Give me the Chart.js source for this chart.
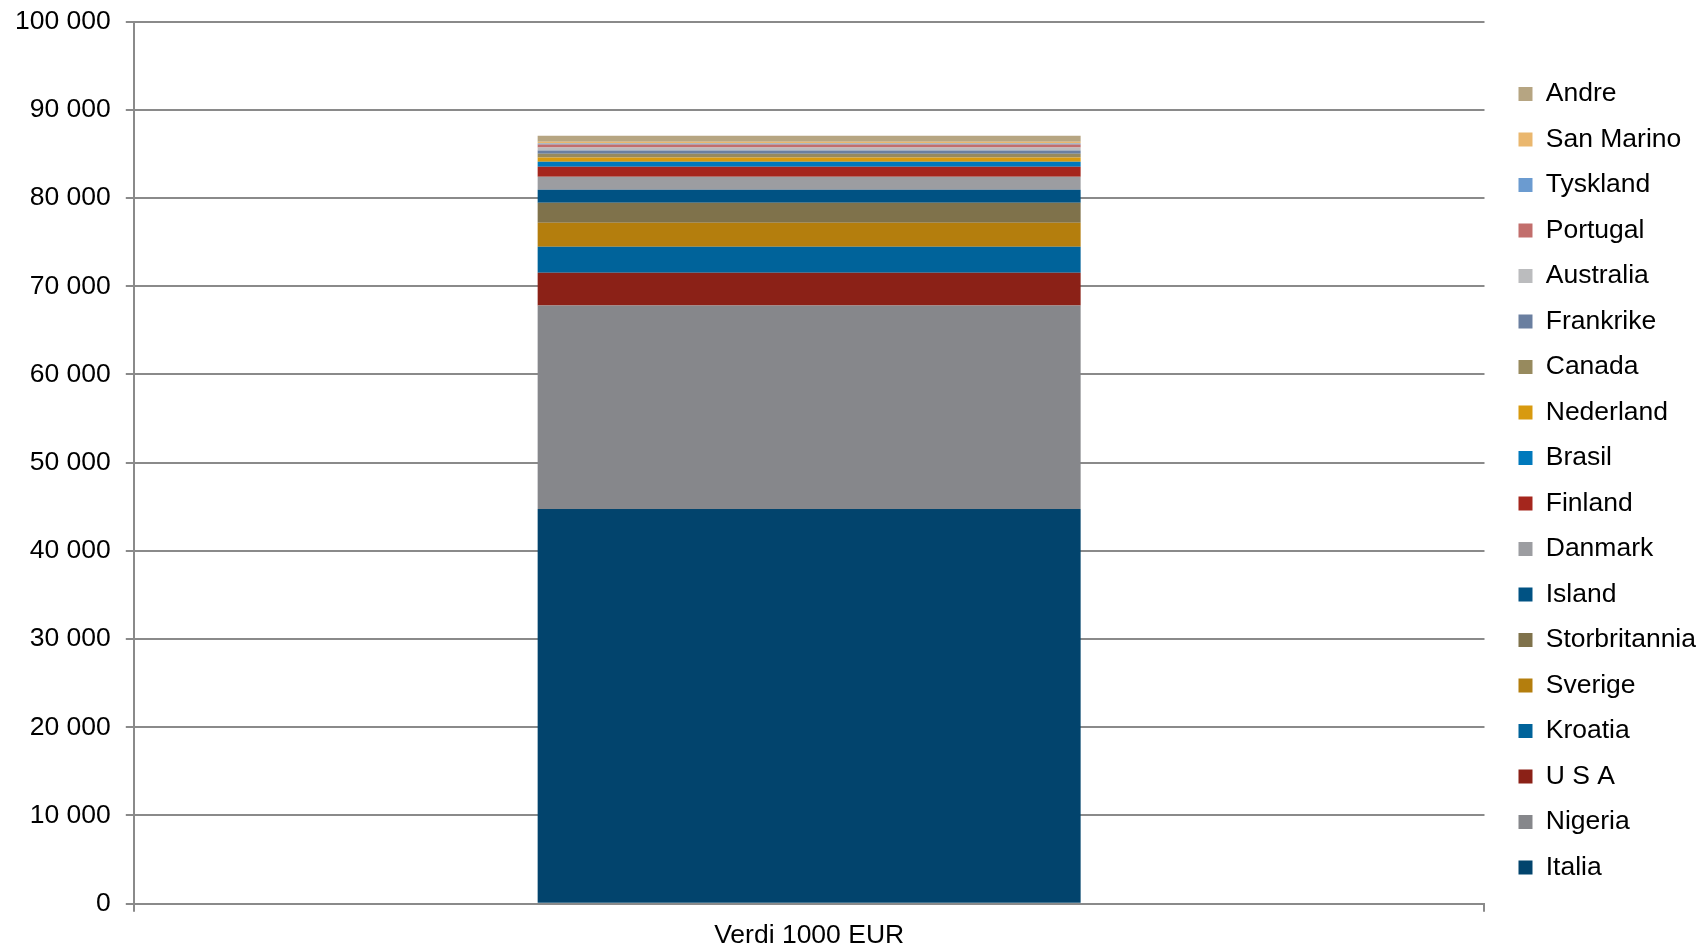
<!DOCTYPE html>
<html>
<head>
<meta charset="utf-8">
<script src="https://cdn.jsdelivr.net/npm/chart.js@4"></script>
<style>
  html, body { margin: 0; padding: 0; background: #ffffff; }
  #wrap { width: 1698px; height: 947px; }
</style>
</head>
<body>
<div id="wrap"><canvas id="c" width="1698" height="947"></canvas></div>
<script>
const categories = ['Verdi 1000 EUR'];
const countries = ['Italia', 'Nigeria', 'U S A', 'Kroatia', 'Sverige', 'Storbritannia', 'Island', 'Danmark', 'Finland', 'Brasil', 'Nederland', 'Canada', 'Frankrike', 'Australia', 'Portugal', 'Tyskland', 'San Marino', 'Andre'];
const values = [44740, 23070, 3710, 2950, 2720, 2270, 1475, 1475, 1135, 565, 490, 420, 375, 340, 340, 115, 190, 680];
const seriesColors = ['#02446D', '#86878B', '#8B2117', '#00639A', '#B47E0D', '#7F724B', '#005283', '#9C9DA1', '#A5261D', '#0079BC', '#D89A0F', '#978A5E', '#6A7FA0', '#BBBCBE', '#C26E6C', '#6B9BD0', '#EAB76E', '#B6A582'];
const yTicks = [0, 10000, 20000, 30000, 40000, 50000, 60000, 70000, 80000, 90000, 100000];

const datasets = countries.map((name, i) => ({
  label: name,
  data: [values[i]],
  backgroundColor: seriesColors[i],
  borderWidth: 0,
  barPercentage: 0.402,
  categoryPercentage: 1.0
}));

const fmt = v => String(v).replace(/\B(?=(\d{3})+(?!\d))/g, ' ');

const shiftLegend = {
  id: 'shiftLegend',
  afterLayout(chart) {
    const lg = chart.legend;
    if (lg) { lg.left += 15; lg.right += 15; lg.top += 1; lg.bottom += 1; }
  }
};

const FONT = '"Liberation Sans", Arial, sans-serif';

new Chart(document.getElementById('c'), {
  type: 'bar',
  data: { labels: categories, datasets },
  plugins: [shiftLegend],
  options: {
    responsive: false,
    devicePixelRatio: 1,
    animation: false,
    layout: { padding: { left: 0, top: 0, right: 7, bottom: -12.5 } },
    plugins: {
      tooltip: { enabled: false },
      legend: {
        position: 'right',
        reverse: true,
        align: 'center',
        labels: {
          boxWidth: 14,
          boxHeight: 14,
          padding: 19,
          color: '#000000',
          font: { family: FONT, size: 26.5 }
        }
      }
    },
    scales: {
      x: {
        stacked: true,
        offset: true,
        border: { display: true, color: '#8a8a8a', width: 2 },
        grid: { display: true, drawOnChartArea: false, drawTicks: true, tickLength: 8, color: '#8a8a8a', lineWidth: 2, offset: true },
        ticks: { color: '#000000', padding: 8, font: { family: FONT, size: 26.5 } }
      },
      y: {
        stacked: true,
        min: 0,
        max: 100000,
        afterBuildTicks: axis => { axis.ticks = yTicks.map(v => ({ value: v })); },
        border: { display: true, color: '#8a8a8a', width: 2 },
        grid: { color: '#8a8a8a', lineWidth: 2, tickLength: 8, drawTicks: true },
        ticks: {
          color: '#000000',
          padding: 15,
          font: { family: FONT, size: 26.5, lineHeight: 0.5 },
          callback: v => fmt(v)
        }
      }
    }
  }
});
</script>
</body>
</html>
